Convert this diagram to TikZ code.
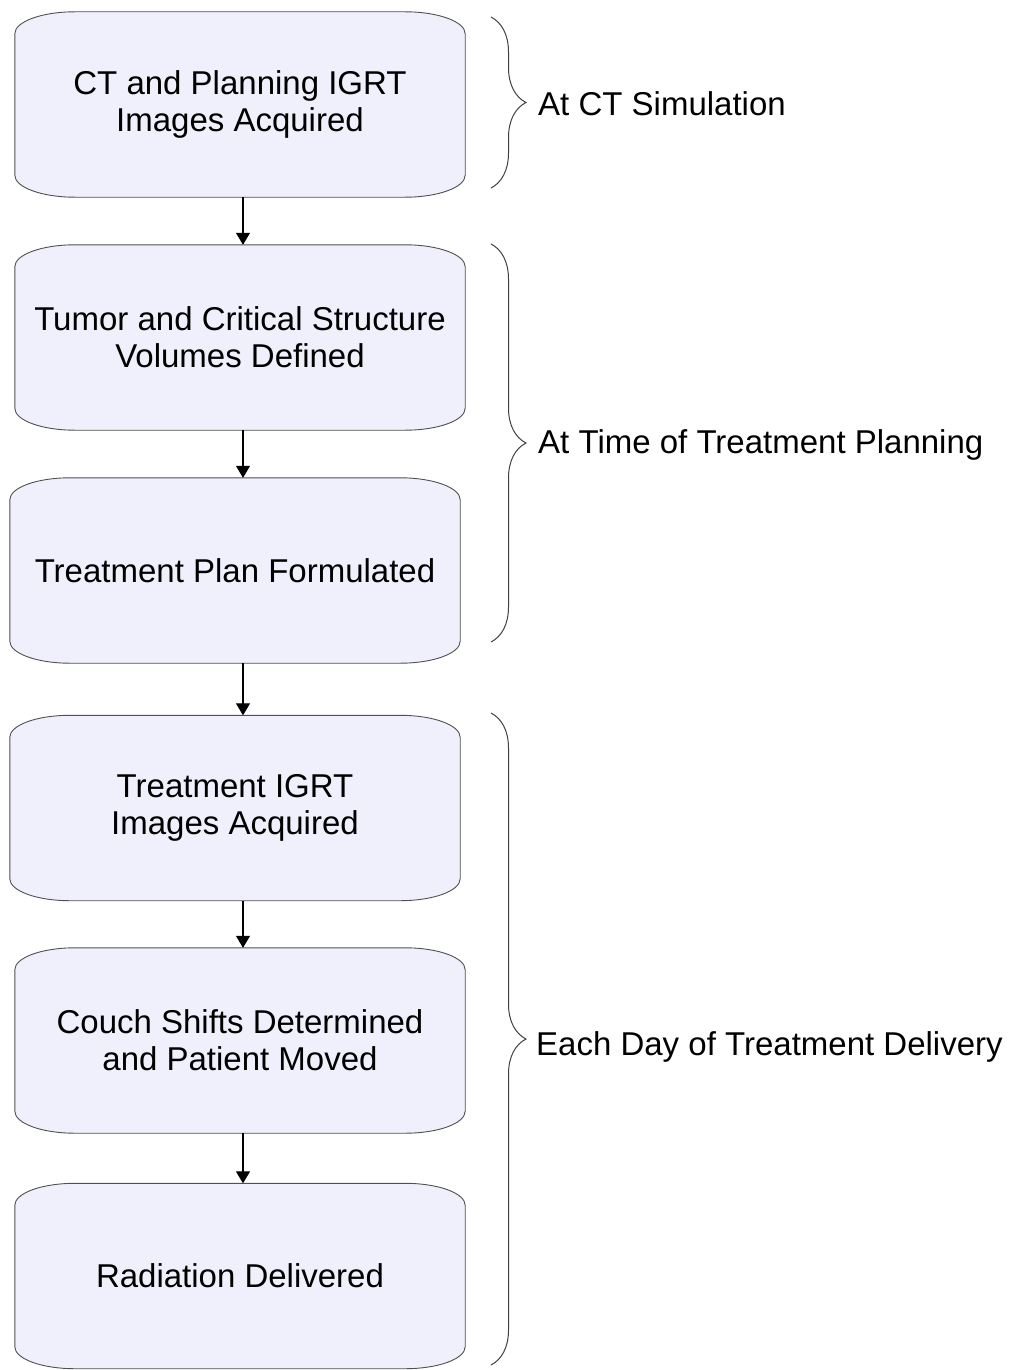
\documentclass[tikz,border=0pt]{standalone}
\usepackage{fontspec}
\setmainfont{Liberation Sans}
\usetikzlibrary{arrows.meta,backgrounds,decorations.pathreplacing}
\definecolor{boxfill}{RGB}{240,240,252}
\definecolor{boxedge}{RGB}{80,80,80}
\begin{document}
\begin{tikzpicture}[x=1pt,y=1pt,
  procbox/.style={minimum width=450pt, minimum height=185pt, inner sep=0pt,
    align=center, font=\fontsize{33}{37}\selectfont},
  phase/.style={anchor=west, inner sep=0pt, font=\fontsize{33}{37}\selectfont},
  flow/.style={-{Triangle[width=14pt,length=12pt]}, line width=1.2pt},
  brc/.style={draw=black!75, line width=1pt, decorate,
    decoration={brace, amplitude=35pt}}]
  \useasboundingbox (0,0) rectangle (1017,-1370);
  % steps
  \node[procbox] (b1) at (240,-104.5) {CT and Planning IGRT\\Images Acquired};
  \node[procbox] (b2) at (240,-337.5) {Tumor and Critical Structure\\Volumes Defined};
  \node[procbox] (b3) at (235,-570.5) {Treatment Plan Formulated};
  \node[procbox] (b4) at (235,-808) {Treatment IGRT\\Images Acquired};
  \node[procbox] (b5) at (240,-1040.5) {Couch Shifts Determined\\and Patient Moved};
  \node[procbox] (b6) at (240,-1276) {Radiation Delivered};
  \begin{scope}[on background layer]
  \foreach \b in {b1,b2,b3,b4,b5,b6}
    \draw[boxedge, fill=boxfill, line width=0.9pt]
      ([xshift=60pt]\b.north west) -- ([xshift=-60pt]\b.north east)
      arc[start angle=90, end angle=0, x radius=60, y radius=22]
      -- ([yshift=22pt]\b.south east)
      arc[start angle=0, end angle=-90, x radius=60, y radius=22]
      -- ([xshift=60pt]\b.south west)
      arc[start angle=270, end angle=180, x radius=60, y radius=22]
      -- ([yshift=-22pt]\b.north west)
      arc[start angle=180, end angle=90, x radius=60, y radius=22] -- cycle;
  \end{scope}
  % arrows
  \coordinate (ax) at (243,0);
  \draw[flow] (b1.south -| ax) -- (b2.north -| ax);
  \draw[flow] (b2.south -| ax) -- (b3.north -| ax);
  \draw[flow] (b3.south -| ax) -- (b4.north -| ax);
  \draw[flow] (b4.south -| ax) -- (b5.north -| ax);
  \draw[flow] (b5.south -| ax) -- (b6.north -| ax);
  % phases
  \draw[brc] (491,-17) -- (491,-188);
  \draw[brc] (491,-244) -- (491,-642);
  \draw[brc] (491,-713) -- (491,-1365);
  \node[phase] (p1) at (538,-104) {At CT Simulation};
  \node[phase] (p2) at (538,-445) {At Time of Treatment Planning};
  \node[phase] (p3) at (536,-1047) {Each Day of Treatment Delivery};
\end{tikzpicture}
\end{document}
